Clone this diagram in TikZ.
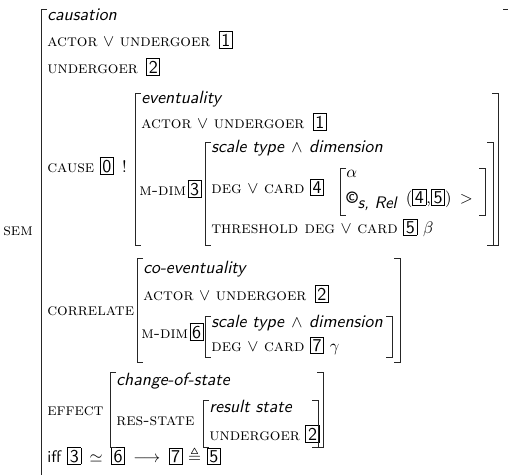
\documentclass[tikz,border=0pt]{standalone}
\usepackage{amssymb}
\usetikzlibrary{positioning}

\newcommand{\feat}[1]{\textsc{#1}}
\newcommand{\avtype}[1]{{\fontsize{10.6}{13}\selectfont\textsf{\itshape #1}}}
\newcommand{\avand}{\hspace{0.4em}$\wedge$\hspace{0.4em}}
\newcommand{\tagno}[1]{{\setlength{\fboxsep}{1pt}\setlength{\fboxrule}{0.5pt}%
                        \fbox{\fontsize{10.8}{13}\selectfont\textsf{#1}}}}

\begin{document}
\begin{tikzpicture} [
						x=1pt, y=-1pt,
						every node/.style={inner sep=0pt, anchor=base west, scale=1.67},
						brack/.style={line width=0.9pt, black!85}
					]

\useasboundingbox (0,0) rectangle (508,474);
\clip (0,0) rectangle (508,474);

% outer matrix
\node (sem)   at (3,235)   {\feat{sem}\,};
\node (typ0)  at (47,20)   {\avtype{causation}};
\node (act0)  at (47,46)   {\feat{actor} $\vee$ \feat{undergoer}\enspace\tagno{1}};
\node (und0)  at (47,73)   {\feat{undergoer}\enspace\tagno{2}};
\node (cause) at (47,172)  {\feat{cause} \tagno{0} \,!};
\node (corr)  at (47,315)  {\feat{correlate}};
\node (eff)   at (47,415)  {\feat{effect}};
\node (iff)   at (47,462)  {\textsf{iff} \tagno{3}\enspace$\simeq$\enspace\tagno{6}\enspace$\longrightarrow$\enspace\tagno{7} $\triangleq$ \tagno{5}};

% cause value
\node (typ1)  at (141,103) {\avtype{eventuality}};
\node (act1)  at (141,128) {\feat{actor} $\vee$ \feat{undergoer}\enspace\tagno{1}};
\node (mdim1) at (139,195) {\feat{m-dim}\kern1pt\tagno{3}};
\node (scl1)  at (211,152) {\avtype{scale type}\avand\avtype{dimension}};
\node (deg1)  at (211,193) {\feat{deg} $\vee$ \feat{card} \tagno{4}};
\node (alp)   at (346,177) {$\alpha$};
\node (rel)   at (346,203) {\textsf{\bfseries\textcopyright}$_{\textsf{\itshape s, Rel}}$\enspace(\tagno{4},\tagno{5})\enspace$>$};
\node (thr)   at (211,233) {\feat{threshold deg} $\vee$ \feat{card} \tagno{5} $\beta$};

% correlate value
\node (typ2)  at (143,273) {\avtype{co-eventuality}};
\node (act2)  at (143,300) {\feat{actor} $\vee$ \feat{undergoer}\enspace\tagno{2}};
\node (mdim2) at (141,338) {\feat{m-dim}\kern1pt\tagno{6}};
\node (scl2)  at (211,327) {\avtype{scale type}\avand\avtype{dimension}};
\node (deg2)  at (211,351) {\feat{deg} $\vee$ \feat{card} \tagno{7} $\gamma$};

% effect value
\node (typ3)  at (116,385) {\avtype{change-of-state}};
\node (res)   at (116,425) {\feat{res-state}};
\node (typ4)  at (209,412) {\avtype{result state}};
\node (und4)  at (209,440) {\feat{undergoer} \tagno{2}};

% brackets
\foreach \x/\t/\b in {41/9/490, 135/93/245, 205/142/245, 340/168/215,
                      137/258/362, 205/316/357, 110/372/447, 203/400/447}
	\draw[brack] (\x+6,\t) -- (\x,\t) -- (\x,\b) -- (\x+6,\b);
\foreach \x/\t/\b in {509/9/490, 498/93/245, 493/142/245, 485/168/215,
                      400/258/362, 392/316/357, 323/372/447, 318/400/447}
	\draw[brack] (\x-6,\t) -- (\x,\t) -- (\x,\b) -- (\x-6,\b);
\end{tikzpicture}
\end{document}
